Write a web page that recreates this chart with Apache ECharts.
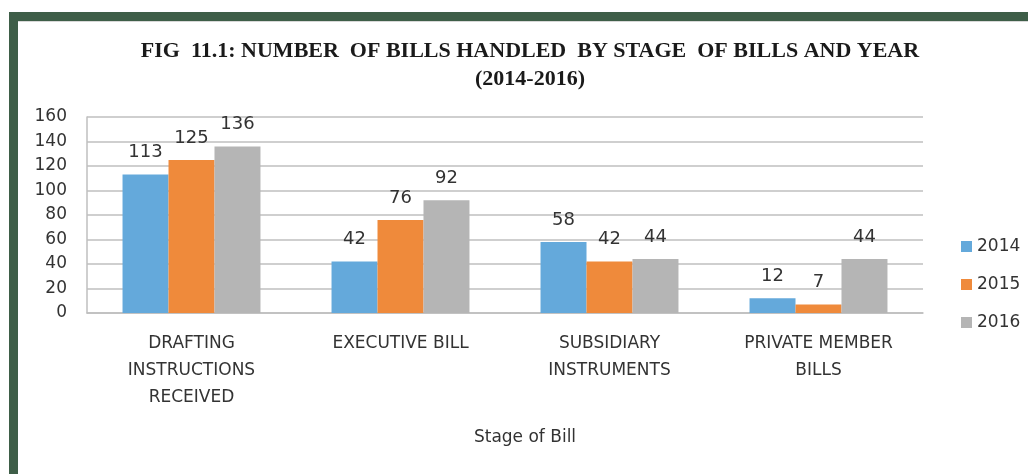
<!DOCTYPE html>
<html><head><meta charset="utf-8">
<script src="https://cdn.jsdelivr.net/npm/echarts@6/dist/echarts.min.js"></script>
<style>html,body{margin:0;padding:0;background:#fff}#c{width:1028px;height:474px}</style>
</head><body><div id="c"></div>
<script>
const categories = ['DRAFTING\nINSTRUCTIONS\nRECEIVED', 'EXECUTIVE BILL', 'SUBSIDIARY\nINSTRUMENTS', 'PRIVATE MEMBER\nBILLS'];
const years = ['2014', '2015', '2016'];
const v2014 = [113, 42, 58, 12];
const v2015 = [125, 76, 42, 7];
const v2016 = [136, 92, 44, 44];
const colors = ['#64a9db', '#ef8a3b', '#b5b5b5'];

const chart = echarts.init(document.getElementById('c'));
const font = '"DejaVu Sans", "Noto Sans", sans-serif';
const mk = (name, data, i) => ({
  name, type: 'bar', data, barGap: '0%', barCategoryGap: '34%',
  itemStyle: { color: colors[i] },
  label: { show: true, position: 'top', distance: 13, color: '#333333', fontSize: 18, fontFamily: font },
  emphasis: { disabled: true }
});
chart.setOption({
  animation: false,
  title: {
    text: 'FIG  11.1: NUMBER  OF BILLS HANDLED  BY STAGE  OF BILLS AND YEAR\n(2014-2016)',
    left: 525, top: 32, textAlign: 'center',
    textStyle: { fontFamily: '"Liberation Serif", serif', fontWeight: 'bold', fontSize: 22, color: '#1a1a1a', lineHeight: 28 }
  },
  legend: {
    orient: 'vertical', left: 956, top: 233, itemGap: 21, itemWidth: 11, itemHeight: 11,
    icon: 'rect', data: years,
    textStyle: { fontFamily: font, fontSize: 17, color: '#333333' }
  },
  grid: { left: 87, right: 105, top: 117, bottom: 161, containLabel: false },
  xAxis: {
    type: 'category', data: categories,
    name: 'Stage of Bill', nameLocation: 'middle', nameGap: 116,
    nameTextStyle: { fontFamily: font, fontSize: 17, color: '#333333', padding: [0, 0, 0, 40] },
    axisLine: { show: true, lineStyle: { color: '#bfbfbf', width: 1.5 } },
    axisTick: { show: false },
    axisLabel: { interval: 0, margin: 17, lineHeight: 27, fontFamily: font, fontSize: 17, color: '#333333' }
  },
  yAxis: {
    type: 'value', min: 0, max: 160, interval: 20,
    axisLine: { show: true, lineStyle: { color: '#bfbfbf', width: 1.5 } },
    axisTick: { show: false },
    splitLine: { lineStyle: { color: '#bfbfbf', width: 1.5 } },
    axisLabel: { margin: 20, padding: [4, 0, 0, 0], fontFamily: font, fontSize: 17, color: '#333333' }
  },
  graphic: [
    { type: 'rect', shape: { x: 9, y: 12, width: 1019, height: 9 }, style: { fill: '#3e5e48' } },
    { type: 'rect', shape: { x: 9, y: 12, width: 9, height: 462 }, style: { fill: '#3e5e48' } },
    { type: 'rect', shape: { x: 18, y: 21, width: 1010, height: 1 }, style: { fill: '#d8d8d8' } }
  ],
  series: [mk(years[0], v2014, 0), mk(years[1], v2015, 1), mk(years[2], v2016, 2)]
});
</script></body></html>
